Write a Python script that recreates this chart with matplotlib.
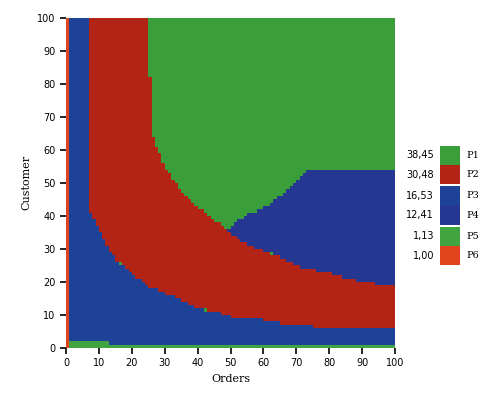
import numpy as np
import matplotlib
matplotlib.use("Agg")
import matplotlib.pyplot as plt
from matplotlib.colors import ListedColormap

# region boundaries (x = orders, y = customer)
bx = [7, 10, 15, 20, 25, 30, 35, 40, 45, 50, 55, 60, 65, 70, 75, 80, 90, 100]
low = [42, 35.7, 26.7, 22.7, 18.6, 16.7, 14.5, 12, 11, 9.5, 9, 8.5, 7.5, 7, 6.5, 6, 6, 6]
up_x = [25, 26, 30, 35, 40, 45, 48, 55, 60, 65, 70, 80, 90, 100]
up = [100, 65, 55, 47.4, 42.8, 38.8, 36.3, 31.2, 29.7, 27.3, 24.8, 22.7, 20, 18.8]
p4_x = [49, 55, 60, 65, 70, 74, 100]
p4_top = [36, 40.3, 42.4, 45.9, 51, 54, 54]

names = ["P1", "P2", "P3", "P4", "P5", "P6"]
shares = ["38,45", "30,48", "16,53", "12,41", "1,13", "1,00"]
colors = ["#3a9e3a", "#b32416", "#1f4299", "#263791", "#40a540", "#e0441c"]

xc = np.arange(100) + 0.5
yc = np.arange(100) + 0.5
X, Y = np.meshgrid(xc, yc)
grid = np.zeros_like(X, dtype=int)  # P1 default
lo = np.interp(X, bx, low)
hi = np.interp(X, up_x, up)
p4 = np.interp(X, p4_x, p4_top)
grid[(Y > lo) & ((X < 25) | (Y < hi))] = 1
grid[(Y < lo) | (X < 7)] = 2
grid[(X > 49) & (Y > hi) & (Y < p4)] = 3
grid[(Y < 1) | ((X < 13) & (Y < 2))] = 4
grid[X < 1] = 5

fig = plt.figure(figsize=(5.0, 4.05), dpi=100)
ax = fig.add_axes([0.132, 0.141, 0.658, 0.815])
ax.pcolormesh(np.arange(101), np.arange(101), grid, cmap=ListedColormap(colors),
              vmin=-0.5, vmax=5.5)
ax.set_xlim(0, 100)
ax.set_ylim(0, 100)
ax.set_xticks(range(0, 101, 10))
ax.set_yticks(range(0, 101, 10))
ax.tick_params(labelsize=7, length=4, width=1.2)
for s in ax.spines.values():
    s.set_visible(False)
ax.set_xlabel("Orders", family="DejaVu Serif", fontsize=8)
ax.set_ylabel("Customer", family="DejaVu Serif", fontsize=8)

# legend blocks
lax = fig.add_axes([0.88, 0.345, 0.04, 0.295])
tops = [0, 1, 2.1, 3.1, 4.2, 5.2]
for t, c, n, s in zip(tops, colors, names, shares):
    lax.bar(0.5, 1, bottom=t, width=1, color=c)
    lax.text(-0.3, t + 0.5, s, ha="right", va="center", fontsize=7)
    lax.text(1.3, t + 0.5, n, ha="left", va="center", fontsize=7, family="DejaVu Serif")
lax.set_xlim(0, 1)
lax.set_ylim(6.2, 0)
lax.axis("off")

fig.savefig("out.png", dpi=100)
